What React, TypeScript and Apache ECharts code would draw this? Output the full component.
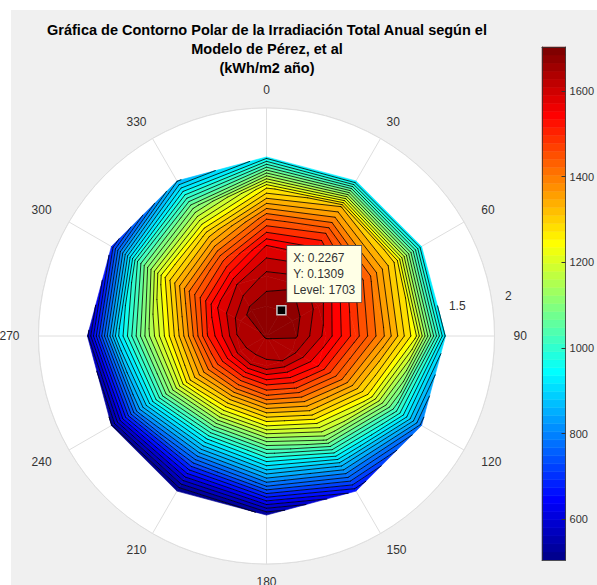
import React, { useEffect, useRef } from "react";
import * as echarts from "echarts";

// ---- data ----
const titleLines = [
  "Gráfica de Contorno Polar de la Irradiación Total Anual según el",
  "Modelo de Pérez, et al",
  "(kWh/m2 año)",
];
const azimuthDeg = [0, 30, 60, 90, 120, 150, 180, 210, 240, 270, 300, 330];
const tiltDeg = [0, 15, 30, 45, 60, 75, 90];
// annual irradiation (kWh/m2 año) per tilt ring, by azimuth
const zTilt0 = 1676;
const zTilt15 = [1692, 1703, 1690, 1675, 1655, 1640, 1632, 1628, 1632, 1640, 1660, 1682];
const zTilt30 = [1652, 1665, 1630, 1600, 1550, 1490, 1455, 1435, 1470, 1515, 1570, 1610];
const zTilt45 = [1585, 1595, 1535, 1500, 1415, 1315, 1245, 1215, 1295, 1320, 1425, 1475];
const zTilt60 = [1445, 1485, 1430, 1390, 1260, 1125, 1012, 962, 1062, 1135, 1260, 1308];
const zTilt75 = [1265, 1335, 1295, 1250, 1035, 880, 790, 730, 820, 925, 1025, 1105];
const zTilt90 = [950, 940, 945, 930, 800, 670, 540, 505, 530, 590, 700, 870];
const levelCount = 38;
const angleTicks = [0, 30, 60, 90, 120, 150, 180, 210, 240, 270, 300, 330];
const sideAngleTicks = [60, 90, 120, 240, 270, 300];
const radiusTickLabels = [1.5, 2];
const colorbarTicks = [600, 800, 1000, 1200, 1400, 1600];
const peakTiltDeg = 15;
const peakAzimuthDeg = 30;

const FONT = "'Liberation Sans', Arial, Helvetica, sans-serif";

const rGrid = tiltDeg.map((d) => (d * Math.PI) / 180);
const zGrid = [azimuthDeg.map(() => zTilt0), zTilt15, zTilt30, zTilt45, zTilt60, zTilt75, zTilt90];
const allZ = zGrid.flat();
const zMin = Math.min(...allZ);
const zMax = Math.max(...allZ);
const levelStep = (zMax - zMin) / (levelCount + 1);
const levels = Array.from({ length: levelCount }, (_, k) => zMin + (k + 1) * levelStep);

// MATLAB jet(64) colormap
function jet(n: number): number[][] {
  const m = Math.ceil(n / 4);
  const u: number[] = [];
  for (let k = 1; k <= m; k++) u.push(k / m);
  for (let k = 1; k < m; k++) u.push(1);
  for (let k = m; k >= 1; k--) u.push(k / m);
  const g0 = Math.ceil(m / 2) - (n % 4 === 1 ? 1 : 0);
  const J = Array.from({ length: n }, () => [0, 0, 0]);
  for (let k = 0; k < u.length; k++) {
    const g = g0 + k + 1;
    const r = g + m;
    const b = g - m;
    if (r >= 1 && r <= n) J[r - 1][0] = u[k];
    if (g >= 1 && g <= n) J[g - 1][1] = u[k];
    if (b >= 1 && b <= n) J[b - 1][2] = u[k];
  }
  return J;
}
const jetMap = jet(64).map(
  (c) => `rgb(${Math.round(c[0] * 255)},${Math.round(c[1] * 255)},${Math.round(c[2] * 255)})`
);
function colorOf(v: number): string {
  let idx = Math.floor(((v - zMin) / (zMax - zMin)) * 64);
  idx = Math.max(0, Math.min(63, idx));
  return jetMap[idx];
}
function bandColor(b: number): string {
  return colorOf(b === 0 ? zMin : levels[b - 1]);
}

type P = number[];
function clipPoly(poly: P[], L: number, keepAbove: boolean): P[] {
  const out: P[] = [];
  const n = poly.length;
  for (let k = 0; k < n; k++) {
    const a = poly[k];
    const b = poly[(k + 1) % n];
    const ina = keepAbove ? a[2] >= L : a[2] < L;
    const inb = keepAbove ? b[2] >= L : b[2] < L;
    if (ina) out.push(a);
    if (ina !== inb) {
      const t = (L - a[2]) / (b[2] - a[2]);
      out.push([a[0] + t * (b[0] - a[0]), a[1] + t * (b[1] - a[1]), L]);
    }
  }
  return out;
}

const nA = azimuthDeg.length;
function cellCorners(api: any, i: number, j: number): P[] {
  const j2 = (j + 1) % nA;
  const a1 = azimuthDeg[j];
  const a2 = j2 === 0 ? 360 : azimuthDeg[j2];
  const defs = [
    [i, j, a1],
    [i + 1, j, a1],
    [i + 1, j2, a2],
    [i, j2, a2],
  ];
  return defs.map(([ri, aj, ang]) => {
    const p = api.coord([rGrid[ri], ang]);
    return [p[0], p[1], zGrid[ri][aj]];
  });
}

const cellData: number[][] = [];
for (let i = 0; i < rGrid.length - 1; i++) {
  for (let j = 0; j < nA; j++) {
    cellData.push([(rGrid[i] + rGrid[i + 1]) / 2, azimuthDeg[j] + 15, i, j]);
  }
}

function renderFill(params: any, api: any) {
  const i = api.value(2);
  const j = api.value(3);
  const quad = cellCorners(api, i, j);
  const zs = quad.map((p) => p[2]);
  const lo = Math.min(...zs);
  const hi = Math.max(...zs);
  const children: any[] = [];
  for (let b = 0; b <= levels.length; b++) {
    const lower = b === 0 ? -Infinity : levels[b - 1];
    const upper = b === levels.length ? Infinity : levels[b];
    if (hi < lower || lo >= upper) continue;
    let poly = quad;
    if (b > 0) poly = clipPoly(poly, lower, true);
    if (poly.length >= 3 && b < levels.length) poly = clipPoly(poly, upper, false);
    if (poly.length < 3) continue;
    const col = bandColor(b);
    children.push({
      type: "polygon",
      shape: { points: poly.map((p) => [p[0], p[1]]) },
      style: { fill: col, stroke: col, lineWidth: 0.6 },
    });
  }
  return { type: "group", children };
}

function renderLines(params: any, api: any) {
  const i = api.value(2);
  const j = api.value(3);
  const quad = cellCorners(api, i, j);
  const children: any[] = [];
  for (const L of levels) {
    const pts: number[][] = [];
    for (let e = 0; e < 4; e++) {
      const a = quad[e];
      const b = quad[(e + 1) % 4];
      if (a[2] >= L !== b[2] >= L) {
        const t = (L - a[2]) / (b[2] - a[2]);
        pts.push([a[0] + t * (b[0] - a[0]), a[1] + t * (b[1] - a[1])]);
      }
    }
    const pairs: number[][][] = [];
    if (pts.length === 2) pairs.push([pts[0], pts[1]]);
    if (pts.length === 4) {
      pairs.push([pts[0], pts[1]]);
      pairs.push([pts[2], pts[3]]);
    }
    for (const [p1, p2] of pairs) {
      children.push({
        type: "line",
        shape: { x1: p1[0], y1: p1[1], x2: p2[0], y2: p2[1] },
        style: { stroke: "#000", lineWidth: 0.8, lineCap: "round" },
      });
    }
  }
  return { type: "group", children };
}

const cbStep = (zMax - zMin) / 64;
const colorbarData = jetMap.map((_, k) => [0.5, zMin + (k + 0.5) * cbStep, k]);
function renderColorbar(params: any, api: any) {
  const k = api.value(2);
  const lo = zMin + k * cbStep;
  const hi = lo + cbStep;
  const p1 = api.coord([0, lo]);
  const p2 = api.coord([1, hi]);
  const col = jetMap[k];
  return {
    type: "rect",
    shape: { x: p1[0], y: p2[1], width: p2[0] - p1[0], height: p1[1] - p2[1] },
    style: { fill: col, stroke: col, lineWidth: 0.5 },
  };
}

const peakR = (peakTiltDeg * Math.PI) / 180;
const peakZ = zGrid[tiltDeg.indexOf(peakTiltDeg)][azimuthDeg.indexOf(peakAzimuthDeg)];
const peakX = peakR * Math.cos((peakAzimuthDeg * Math.PI) / 180);
const peakY = peakR * Math.sin((peakAzimuthDeg * Math.PI) / 180);

export default function App() {
  const ref = useRef<HTMLDivElement>(null);
  useEffect(() => {
    if (!ref.current) return;
    const chart = echarts.init(ref.current, undefined, { renderer: "svg" });
    const option: any = {
      animation: false,
      backgroundColor: "#f0f0f0",
      textStyle: { fontFamily: FONT },
      title: {
        text: titleLines.join("\n"),
        left: 267,
        top: 20,
        textAlign: "center",
        padding: 0,
        textStyle: { fontSize: 14.5, fontWeight: "bold", color: "#000", lineHeight: 19, fontFamily: FONT },
      },
      graphic: [
        { type: "rect", shape: { x: 0, y: 0, width: 597, height: 10 }, style: { fill: "#fff" }, silent: true },
        { type: "rect", shape: { x: 0, y: 0, width: 11, height: 585 }, style: { fill: "#fff" }, silent: true },
      ],
      polar: { center: [266.5, 336], radius: 228 },
      angleAxis: {
        type: "value",
        min: 0,
        max: 360,
        interval: 30,
        startAngle: 90,
        clockwise: true,
        axisLine: { show: true, lineStyle: { color: "#dedede", width: 1 } },
        axisTick: { show: false },
        axisLabel: {
          margin: 12,
          fontSize: 12,
          color: "#333",
          fontFamily: FONT,
          formatter: (v: number) => {
            if (!angleTicks.includes(v)) return "";
            return sideAngleTicks.includes(v) ? `{h|${v}}` : String(v);
          },
          rich: {
            h: { fontSize: 12, color: "#333", fontFamily: FONT, padding: [0, 7, 0, 7] },
          },
        },
        splitLine: { show: true, lineStyle: { color: "#dedede", width: 1 } },
      },
      radiusAxis: {
        type: "value",
        min: 0,
        max: 2,
        interval: 0.5,
        axisLine: { show: false },
        axisTick: { show: false },
        axisLabel: { show: false },
        splitLine: { show: true, lineStyle: { color: "#dedede", width: 1 } },
        splitArea: { show: true, areaStyle: { color: ["#ffffff"] } },
      },
      grid: { left: 542, top: 47, width: 26, height: 513 },
      xAxis: [
        { type: "value", min: 0, max: 1, position: "bottom", z: 5, axisLine: { show: true, onZero: false, lineStyle: { color: "#333", width: 0.8 } }, axisTick: { show: false }, axisLabel: { show: false }, splitLine: { show: false } },
        { type: "value", min: 0, max: 1, position: "top", z: 5, axisLine: { show: true, onZero: false, lineStyle: { color: "#333", width: 0.8 } }, axisTick: { show: false }, axisLabel: { show: false }, splitLine: { show: false } },
      ],
      yAxis: [
        {
          type: "value",
          min: zMin,
          max: zMax,
          position: "right",
          z: 5,
          axisLine: { show: true, onZero: false, lineStyle: { color: "#333", width: 0.8 } },
          axisTick: { show: true, inside: true, length: 4, customValues: colorbarTicks, lineStyle: { color: "#333" } },
          axisLabel: {
            show: true,
            margin: 4,
            fontSize: 11,
            color: "#333",
            fontFamily: FONT,
            customValues: colorbarTicks,
            formatter: (v: number) => String(Math.round(v)),
          },
          splitLine: { show: false },
        },
        {
          type: "value",
          min: zMin,
          max: zMax,
          position: "left",
          z: 5,
          axisLine: { show: true, onZero: false, lineStyle: { color: "#333", width: 0.8 } },
          axisTick: { show: false },
          axisLabel: { show: false },
          splitLine: { show: false },
        },
      ],
      series: [
        {
          name: "fill",
          type: "custom",
          coordinateSystem: "polar",
          z: 2,
          silent: true,
          encode: { radius: 0, angle: 1 },
          data: cellData,
          renderItem: renderFill,
        },
        {
          name: "lines",
          type: "custom",
          coordinateSystem: "polar",
          z: 3,
          silent: true,
          encode: { radius: 0, angle: 1 },
          data: cellData,
          renderItem: renderLines,
        },
        {
          name: "rticks",
          type: "scatter",
          coordinateSystem: "polar",
          symbolSize: 0,
          z: 4,
          silent: true,
          itemStyle: { opacity: 1 },
          data: radiusTickLabels.map((r) => [r, 80]),
          label: {
            show: true,
            position: "right",
            distance: 14,
            fontSize: 12,
            color: "#333",
            fontFamily: FONT,
            formatter: (p: any) => String(p.value[0]),
          },
        },
        {
          name: "tip",
          type: "scatter",
          coordinateSystem: "polar",
          z: 10,
          silent: true,
          symbol: "rect",
          symbolSize: 9,
          itemStyle: { color: "#000", borderColor: "#c8c8c8", borderWidth: 1.5, opacity: 1 },
          data: [[peakR, peakAzimuthDeg]],
          label: {
            show: true,
            position: [11, -59],
            align: "left",
            verticalAlign: "top",
            fontSize: 12,
            lineHeight: 16,
            color: "#333",
            fontFamily: FONT,
            backgroundColor: "#ffffe6",
            borderColor: "#555",
            borderWidth: 0.8,
            padding: [4, 6],
            opacity: 1,
            formatter: () =>
              `X: ${peakX.toFixed(4)}\nY: ${peakY.toFixed(4)}\nLevel: ${Math.round(peakZ)}`,
          },
        },
        {
          name: "colorbar",
          type: "custom",
          coordinateSystem: "cartesian2d",
          xAxisIndex: 0,
          yAxisIndex: 0,
          z: 2,
          silent: true,
          encode: { x: 0, y: 1 },
          data: colorbarData,
          renderItem: renderColorbar,
        },
      ],
    };
    chart.setOption(option);
    return () => chart.dispose();
  }, []);
  return (
    <div
      ref={ref}
      style={{ position: "fixed", left: 0, top: 0, width: 597, height: 585 }}
    />
  );
}
